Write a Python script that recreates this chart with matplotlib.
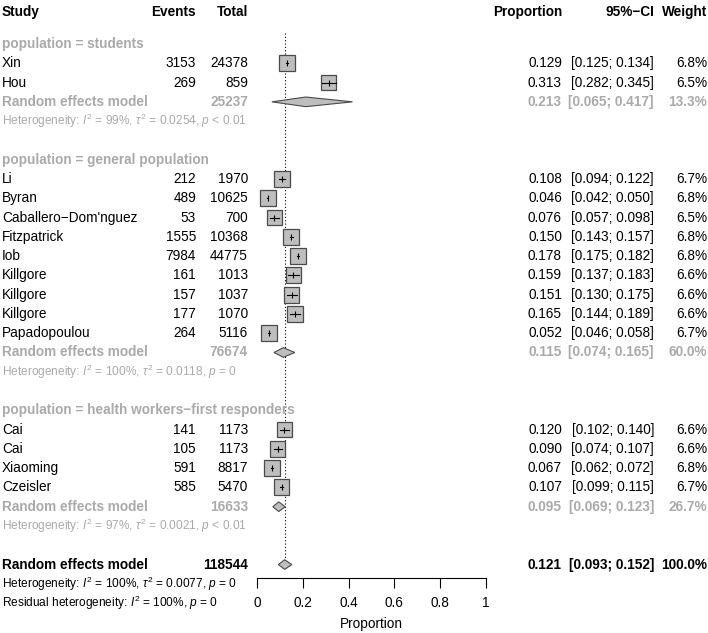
import numpy as np
import matplotlib
matplotlib.use('Agg')
import matplotlib.pyplot as plt
import matplotlib.transforms as mtransforms
from matplotlib.patches import Rectangle, Polygon

plt.rcParams['font.family'] = ['Liberation Sans', 'DejaVu Sans']
plt.rcParams['mathtext.fontset'] = 'custom'
plt.rcParams['mathtext.rm'] = 'Liberation Sans'
plt.rcParams['mathtext.it'] = 'Liberation Sans:italic'
plt.rcParams['mathtext.bf'] = 'Liberation Sans:bold'

# ---- data ----
groups = ['students', 'general population', 'health workers\u2212first responders']

study = [['Xin', 'Hou'],
         ['Li', 'Byran', 'Caballero\u2212Dom\'nguez', 'Fitzpatrick', 'Iob',
          'Killgore', 'Killgore', 'Killgore', 'Papadopoulou'],
         ['Cai', 'Cai', 'Xiaoming', 'Czeisler']]
events = [[3153, 269],
          [212, 489, 53, 1555, 7984, 161, 157, 177, 264],
          [141, 105, 591, 585]]
total = [[24378, 859],
         [1970, 10625, 700, 10368, 44775, 1013, 1037, 1070, 5116],
         [1173, 1173, 8817, 5470]]
prop = [[0.129, 0.313],
        [0.108, 0.046, 0.076, 0.150, 0.178, 0.159, 0.151, 0.165, 0.052],
        [0.120, 0.090, 0.067, 0.107]]
lower = [[0.125, 0.282],
         [0.094, 0.042, 0.057, 0.143, 0.175, 0.137, 0.130, 0.144, 0.046],
         [0.102, 0.074, 0.062, 0.099]]
upper = [[0.134, 0.345],
         [0.122, 0.050, 0.098, 0.157, 0.182, 0.183, 0.175, 0.189, 0.058],
         [0.140, 0.107, 0.072, 0.115]]
weight = [[6.8, 6.5],
          [6.7, 6.8, 6.5, 6.8, 6.8, 6.6, 6.6, 6.6, 6.7],
          [6.6, 6.6, 6.8, 6.7]]

grp_total = [25237, 76674, 16633]
grp_prop = [0.213, 0.115, 0.095]
grp_lower = [0.065, 0.074, 0.069]
grp_upper = [0.417, 0.165, 0.123]
grp_weight = [13.3, 60.0, 26.7]
grp_i2 = ['99%', '100%', '97%']
grp_tau2 = ['0.0254', '0.0118', '0.0021']
grp_p = ['< 0.01', '= 0', '< 0.01']

all_total = 118544
all_prop = 0.121
all_lower = 0.093
all_upper = 0.152
all_weight = 100.0
all_i2 = '100%'
all_tau2 = '0.0077'
all_p = '= 0'
resid_i2 = '100%'
resid_p = '= 0'

xticks = [0, 0.2, 0.4, 0.6, 0.8, 1]
xtick_labels = ['0', '0.2', '0.4', '0.6', '0.8', '1']

# ---- layout ----
W, H = 708, 633
row_h = 19.28
y_first = 44
fs = 9.8
fs_small = 8.6
grey = '#aaaaaa'
box_fill = '#bebebe'
box_edge = '#4a4a4a'

fig = plt.figure(figsize=(W / 100, H / 100), dpi=100)
ax = fig.add_axes([257 / W, 0, 229 / W, 1])
ax.set_xlim(0, 1)
ax.set_ylim(1 + (H - y_first) / row_h, 1 - y_first / row_h)
tr = mtransforms.blended_transform_factory(fig.transFigure, ax.transData)

col_study = 2 / W
col_events = 196 / W
col_total = 248 / W
col_prop = 562 / W
col_ci = 654 / W
col_w = 707 / W


def row_text(k, name, ev, tot, p, lo, hi, w, color='black', weight='normal'):
    kw = dict(transform=tr, va='center', fontsize=fs, color=color, fontweight=weight)
    ax.text(col_study, k, name, ha='left', **kw)
    if ev is not None:
        ax.text(col_events, k, str(ev), ha='right', **kw)
    ax.text(col_total, k, str(tot), ha='right', **kw)
    ax.text(col_prop, k, f'{p:.3f}', ha='right', **kw)
    ax.text(col_ci, k, f'[{lo:.3f}; {hi:.3f}]', ha='right', **kw)
    ax.text(col_w, k, f'{w:.1f}%', ha='right', **kw)


def diamond(k, p, lo, hi):
    dh = 0.25
    ax.add_patch(Polygon([(lo, k), (p, k - dh), (hi, k), (p, k + dh)], closed=True,
                         facecolor=box_fill, edgecolor=box_edge, lw=0.8, zorder=3))


# header
k_head = 1 - 32 / row_h
hk = dict(transform=tr, va='center', fontsize=fs, fontweight='bold')
ax.text(col_study, k_head, 'Study', ha='left', **hk)
ax.text(col_events, k_head, 'Events', ha='right', **hk)
ax.text(col_total, k_head, 'Total', ha='right', **hk)
ax.text(col_prop, k_head, 'Proportion', ha='right', **hk)
ax.text(col_ci, k_head, '95%\u2212CI', ha='right', **hk)
ax.text(col_w, k_head, 'Weight', ha='right', **hk)

k = 1
for g in range(len(groups)):
    ax.text(col_study, k, f'population = {groups[g]}', transform=tr, ha='left',
            va='center', fontsize=fs, fontweight='bold', color=grey)
    k += 1
    for i in range(len(study[g])):
        row_text(k, study[g][i], events[g][i], total[g][i], prop[g][i],
                 lower[g][i], upper[g][i], weight[g][i])
        side = 16 * np.sqrt(weight[g][i] / 6.8)
        ax.add_patch(Rectangle((prop[g][i] - side / 229 / 2, k - side / row_h / 2),
                               side / 229, side / row_h, facecolor=box_fill,
                               edgecolor=box_edge, lw=0.9, zorder=3))
        ax.plot([lower[g][i], upper[g][i]], [k, k], color='black', lw=0.8, zorder=4)
        ax.plot([prop[g][i]], [k], marker='|', markersize=5, mew=0.8,
                color='black', zorder=4)
        k += 1
    row_text(k, 'Random effects model', None, grp_total[g], grp_prop[g],
             grp_lower[g], grp_upper[g], grp_weight[g], color=grey, weight='bold')
    diamond(k, grp_prop[g], grp_lower[g], grp_upper[g])
    k += 1
    ax.text(col_study, k, f'Heterogeneity: $I^2$ = {grp_i2[g]}, $\\tau^2$ = {grp_tau2[g]}, $p$ {grp_p[g]}',
            transform=tr, ha='left', va='center', fontsize=fs_small, color=grey)
    k += 2

k_all = k
row_text(k_all, 'Random effects model', None, all_total, all_prop, all_lower, all_upper,
         all_weight, weight='bold')
diamond(k_all, all_prop, all_lower, all_upper)
ax.text(col_study, k_all + 1, f'Heterogeneity: $I^2$ = {all_i2}, $\\tau^2$ = {all_tau2}, $p$ {all_p}',
        transform=tr, ha='left', va='center', fontsize=fs_small)
ax.text(col_study, k_all + 2, f'Residual heterogeneity: $I^2$ = {resid_i2}, $p$ {resid_p}',
        transform=tr, ha='left', va='center', fontsize=fs_small)

# reference line at overall estimate
ax.plot([all_prop, all_prop], [1 - 11 / row_h, k_all - 0.25], ls=(0, (1, 2)),
        color='black', lw=0.8, zorder=2)

# x axis
for s in ['top', 'left', 'right']:
    ax.spines[s].set_visible(False)
ax.spines['bottom'].set_position(('data', 1 + (578 - y_first) / row_h))
ax.spines['bottom'].set_bounds(0, 1)
ax.spines['bottom'].set_linewidth(0.8)
ax.set_yticks([])
ax.set_xticks(xticks)
ax.set_xticklabels(xtick_labels)
ax.tick_params(axis='x', direction='out', length=7, width=0.8, labelsize=fs, pad=6)
ax.patch.set_visible(False)
ax.text(0.5, 1 + (624 - y_first) / row_h, 'Proportion', ha='center', va='center',
        fontsize=fs)

fig.savefig('out.png', dpi=100)
